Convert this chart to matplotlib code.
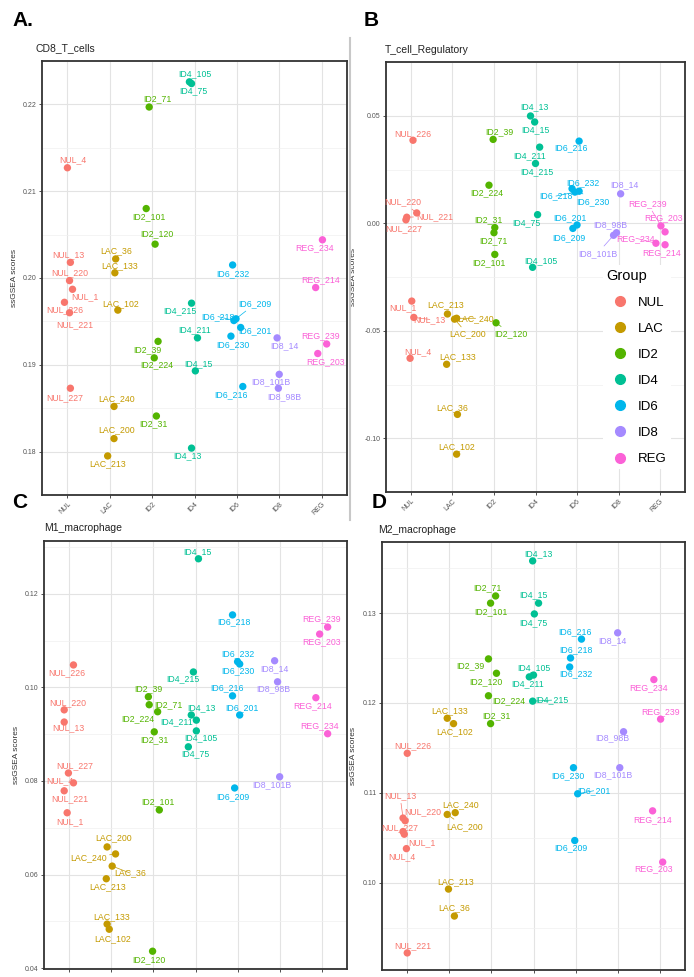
import numpy as np
import matplotlib.pyplot as plt
from matplotlib.lines import Line2D

plt.rcParams['font.family'] = ['Liberation Sans', 'DejaVu Sans']

groups = ['NUL', 'LAC', 'ID2', 'ID4', 'ID6', 'ID8', 'REG']
group_colors = ['#F8766D', '#C49A00', '#53B400', '#00C094', '#00B6EB', '#A58AFF', '#FB61D7']

samples = ['NUL_1', 'NUL_4', 'NUL_13', 'NUL_220', 'NUL_221', 'NUL_226', 'NUL_227',
           'LAC_36', 'LAC_102', 'LAC_133', 'LAC_200', 'LAC_213', 'LAC_240',
           'ID2_31', 'ID2_39', 'ID2_71', 'ID2_101', 'ID2_120', 'ID2_224',
           'ID4_13', 'ID4_15', 'ID4_75', 'ID4_105', 'ID4_211', 'ID4_215',
           'ID6_201', 'ID6_209', 'ID6_216', 'ID6_218', 'ID6_230', 'ID6_232',
           'ID8_14', 'ID8_98B', 'ID8_101B',
           'REG_203', 'REG_214', 'REG_234', 'REG_239']

# ssGSEA scores per signature (same sample order as above)
cd8_scores = [0.1987, 0.2127, 0.2018, 0.1997, 0.1960, 0.1972, 0.1873,
              0.2022, 0.1963, 0.2006, 0.1815, 0.1795, 0.1852,
              0.1841, 0.1927, 0.2197, 0.2080, 0.2039, 0.1908,
              0.1804, 0.1893, 0.2224, 0.2226, 0.1931, 0.1971,
              0.1943, 0.1953, 0.1875, 0.1951, 0.1933, 0.2015,
              0.1931, 0.1873, 0.1889,
              0.1913, 0.1989, 0.2044, 0.1924]
treg_scores = [-0.0362, -0.0628, -0.0438, 0.0048, 0.0028, 0.0386, 0.0016,
               -0.0889, -0.1074, -0.0656, -0.0446, -0.0422, -0.0442,
               -0.0020, 0.0390, -0.0044, -0.0145, -0.0463, 0.0177,
               0.0499, 0.0471, 0.0040, -0.0205, 0.0354, 0.0278,
               -0.0008, -0.0024, 0.0382, 0.0145, 0.0149, 0.0161,
               0.0137, -0.0044, -0.0056,
               -0.0040, -0.0100, -0.0093, -0.0012]
m1_scores = [0.0732, 0.0796, 0.0926, 0.0952, 0.0779, 0.1048, 0.0817,
             0.0618, 0.0483, 0.0494, 0.0659, 0.0591, 0.0644,
             0.0905, 0.0980, 0.0963, 0.0738, 0.0436, 0.0948,
             0.0941, 0.1275, 0.0873, 0.0907, 0.0930, 0.1033,
             0.0941, 0.0785, 0.0982, 0.1155, 0.1050, 0.1055,
             0.1057, 0.1012, 0.0809,
             0.1114, 0.0978, 0.0901, 0.1129]
m2_scores = [0.1054, 0.1038, 0.1072, 0.1069, 0.0922, 0.1144, 0.1057,
             0.0963, 0.1177, 0.1183, 0.1076, 0.0993, 0.1078,
             0.1177, 0.1249, 0.1319, 0.1311, 0.1233, 0.1208,
             0.1358, 0.1311, 0.1299, 0.1231, 0.1229, 0.1202,
             0.1099, 0.1047, 0.1271, 0.1250, 0.1128, 0.1240,
             0.1278, 0.1168, 0.1128,
             0.1023, 0.1080, 0.1226, 0.1182]

# horizontal jitter (category units)
cd8_jitter = [0.12, 0.00, 0.07, 0.05, 0.05, -0.07, 0.07,
              0.14, 0.19, 0.12, 0.10, -0.05, 0.10,
              0.10, 0.14, -0.07, -0.14, 0.07, 0.05,
              -0.07, 0.02, -0.07, -0.12, 0.07, -0.07,
              0.09, -0.02, 0.14, -0.07, -0.14, -0.10,
              -0.05, -0.02, 0.00,
              -0.09, -0.14, 0.02, 0.12]
treg_jitter = [0.02, -0.02, 0.07, 0.14, -0.10, 0.05, -0.12,
               0.12, 0.10, -0.14, 0.05, -0.12, 0.10,
               0.02, -0.02, 0.00, 0.02, 0.05, -0.12,
               -0.12, -0.02, 0.05, -0.07, 0.10, 0.00,
               0.00, -0.10, 0.05, -0.05, 0.05, -0.12,
               0.05, -0.05, -0.12,
               0.12, 0.12, -0.10, 0.02]
m1_jitter = [-0.05, 0.10, -0.12, -0.12, -0.12, 0.10, -0.02,
             0.02, -0.05, -0.10, -0.10, -0.12, 0.10,
             0.02, -0.12, -0.10, 0.14, -0.02, 0.10,
             -0.10, 0.07, -0.17, 0.02, 0.02, -0.05,
             0.05, -0.07, -0.12, -0.12, 0.05, 0.00,
             -0.12, -0.05, 0.00,
             -0.05, -0.14, 0.14, 0.14]
m2_jitter = [-0.07, -0.02, -0.10, -0.05, 0.00, 0.00, -0.10,
             0.12, 0.10, -0.05, -0.05, -0.02, 0.14,
             -0.02, -0.07, 0.10, -0.02, 0.12, -0.07,
             -0.02, 0.12, 0.02, 0.00, -0.10, -0.02,
             0.05, -0.02, 0.14, -0.12, -0.05, -0.14,
             0.00, 0.14, 0.05,
             0.07, -0.17, -0.14, 0.02]

# label placement (pixel offsets from the point, y down) - layout only
cd8_lab = [(12, 7), (5, -8), (-2, -8), (0, -8), (5, 12), (0, 7), (-6, 9),
           (0, -8), (3, -6), (5, -7), (3, -9), (0, 8), (3, -8),
           (-3, 8), (-11, 8), (8, -8), (3, 8), (2, -10), (3, 7),
           (-4, 8), (3, -7), (2, 7), (5, -8), (-3, -8), (-12, 8),
           (14, 3), (19, -15), (-12, 8), (-16, -4), (2, 9), (0, 9),
           (7, 8), (6, 8), (-8, 7),
           (8, 8), (5, -8), (-8, 8), (-6, -8)]
treg_lab = [(-9, 7), (8, -7), (16, 2), (-14, -11), (28, -1), (0, -7), (-2, 9),
            (-5, -7), (0, -7), (11, -8), (13, 15), (-2, -9), (19, 0),
            (-6, -8), (6, -8), (-1, 8), (-6, 8), (15, 11), (-2, 8),
            (4, -9), (1, 8), (-11, 8), (8, -7), (-10, 9), (1, 8),
            (-7, -7), (-4, 9), (-8, 7), (-19, 4), (14, 10), (11, -6),
            (4, -9), (-6, -8), (-16, 18),
            (-2, -14), (-3, 8), (-20, -5), (-13, -22)]
m1_lab = [(3, 9), (-14, -2), (4, 6), (4, -7), (6, 8), (-7, 8), (6, -7),
          (18, 7), (3, 9), (5, -7), (6, -9), (1, 8), (-27, 4),
          (0, 8), (0, -8), (19, 0), (-1, -8), (-4, 8), (-20, 7),
          (10, -7), (-1, -7), (7, 7), (5, 7), (-20, 2), (-11, 7),
          (2, -7), (-2, 9), (-6, -8), (1, 7), (-2, 7), (0, -8),
          (0, 8), (-4, 7), (-8, 8),
          (2, 8), (-3, 8), (-8, -8), (-6, -8)]
m2_lab = [(18, 8), (-5, 8), (-3, -22), (18, -9), (6, -7), (6, -8), (-3, -4),
          (0, -8), (1, 8), (2, -8), (17, 12), (7, -7), (5, -8),
          (6, -8), (-18, 7), (-8, -8), (0, 9), (-11, 8), (20, 5),
          (6, -7), (-5, -8), (-1, 9), (0, -7), (-2, 7), (19, -1),
          (16, -3), (-4, 7), (-6, -7), (5, -8), (-6, 8), (6, 7),
          (-5, 8), (-11, 6), (-7, 7),
          (-9, 7), (0, 9), (-5, 8), (0, -7)]

W, H = 694, 977
fig = plt.figure(figsize=(W / 100, H / 100), dpi=100)


def px_rect(left, top, right, bottom):
    return [left / W, 1 - bottom / H, (right - left) / W, (bottom - top) / H]


def draw_panel(rect, title, title_xy, scores, jitter, labs, ylim, yticks, minor, ylab_x, xlabels=True):
    ax = fig.add_axes(px_rect(*rect))
    gidx = np.array([groups.index(s.split('_')[0]) for s in samples])
    xs = gidx + 1 + np.array(jitter)
    cols = [group_colors[g] for g in gidx]
    ax.set_xlim(0.4, 7.6)
    ax.set_ylim(*ylim)
    ax.set_xticks(range(1, 8))
    if xlabels:
        ax.set_xticklabels(groups, rotation=45, ha='right', rotation_mode='anchor')
    else:
        # the bottom row's category labels fall below the picture edge
        ax.set_xticklabels([])
    ax.set_yticks(yticks)
    ax.set_yticklabels(['%.2f' % v for v in yticks])
    ax.set_yticks(minor, minor=True)
    ax.tick_params(which='major', length=2.5, width=0.6, color='#333333', labelsize=5,
                   labelcolor='#555555', pad=1.5)
    ax.tick_params(which='minor', length=0)
    ax.grid(True, which='major', color='#E3E3E3', lw=0.8)
    ax.grid(True, which='minor', axis='y', color='#F0F0F0', lw=0.5)
    ax.set_axisbelow(True)
    for sp in ax.spines.values():
        sp.set_color('#333333')
        sp.set_linewidth(1.3)
    ax.scatter(xs, scores, s=28, c=cols, edgecolors='none', zorder=3)
    for name, x, y, (dx, dy), c in zip(samples, xs, scores, labs, cols):
        kw = {}
        if np.hypot(dx, dy) >= 16:
            kw['arrowprops'] = dict(arrowstyle='-', color=c, lw=0.5, shrinkA=0, shrinkB=2)
        ax.annotate(name, (x, y), xytext=(dx, -dy), textcoords='offset pixels',
                    ha='center', va='center', fontsize=6.3, color=c, zorder=4, **kw)
    ax.set_ylabel('ssGSEA scores', fontsize=6, color='#333333')
    ax.yaxis.set_label_coords((ylab_x - rect[0]) / (rect[2] - rect[0]), 0.5)
    fig.text(title_xy[0] / W, 1 - title_xy[1] / H, title, fontsize=7.5, color='#222222',
             ha='left', va='center')
    return ax


draw_panel((42, 61, 347, 495), 'CD8_T_cells', (35, 48), cd8_scores, cd8_jitter, cd8_lab,
           (0.1774, 0.2247), [0.18, 0.19, 0.20, 0.21, 0.22],
           [0.175, 0.185, 0.195, 0.205, 0.215, 0.225], 18)
draw_panel((386, 62, 685, 492), 'T_cell_Regulatory', (385, 50), treg_scores, treg_jitter, treg_lab,
           (-0.1153, 0.0576), [-0.10, -0.05, 0.00, 0.05],
           [-0.125, -0.075, -0.025, 0.025, 0.075], 357)
draw_panel((44, 541, 347, 969), 'M1_macrophage', (44, 528), m1_scores, m1_jitter, m1_lab,
           (0.0398, 0.1313), [0.04, 0.06, 0.08, 0.10, 0.12],
           [0.05, 0.07, 0.09, 0.11, 0.13], 20, xlabels=False)
draw_panel((382, 542, 685, 970), 'M2_macrophage', (378, 530), m2_scores, m2_jitter, m2_lab,
           (0.0903, 0.1379), [0.10, 0.11, 0.12, 0.13],
           [0.095, 0.105, 0.115, 0.125, 0.135], 357, xlabels=False)

# separator between left and right columns
fig.add_artist(Line2D([350 / W, 350 / W], [1 - 38 / H, 1 - 520 / H], color='#C8C8C8', lw=1.5))

for letter, (lx, ly) in zip(['A.', 'B', 'C', 'D'], [(12, 20), (364, 20), (12, 502), (372, 502)]):
    fig.text(lx / W, 1 - ly / H, letter, fontsize=15, fontweight='bold', ha='left', va='center')

handles = [Line2D([], [], marker='o', ls='', color=c, markersize=7) for c in group_colors]
leg = fig.legend(handles, groups, title='Group', loc='upper left',
                 bbox_to_anchor=(596 / W, 1 - 258 / H), frameon=True, fontsize=9.5,
                 title_fontsize=10.5, labelspacing=1.05, handletextpad=0.4, borderpad=0.3,
                 alignment='left')
leg.get_frame().set_facecolor('white')
leg.get_frame().set_edgecolor('none')
leg.get_frame().set_alpha(1)

fig.savefig('out.png', dpi=100)
